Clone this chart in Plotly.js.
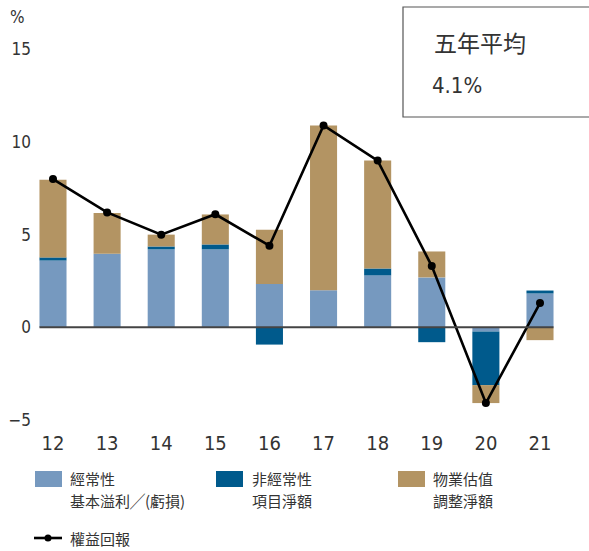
<!DOCTYPE html>
<html>
<head>
<meta charset="utf-8">
<script src="https://cdn.plot.ly/plotly-3.0.1.min.js"></script>
<style>html,body{margin:0;padding:0;background:#fff;}#chart{width:589px;height:551px;}</style>
</head>
<body>
<div id="chart"></div>
<script>
// Data
const years = ['12','13','14','15','16','17','18','19','20','21'];
const recurring = [3.6, 3.97, 4.2, 4.2, 2.33, 2.0, 2.8, 2.69, -0.23, 1.82];
const nonRecurring = [0.17, 0, 0.16, 0.27, -0.94, 0, 0.37, -0.81, -2.9, 0.16];
const revaluation = [4.2, 2.2, 0.64, 1.62, 2.93, 8.9, 5.84, 1.4, -0.97, -0.7];
const roe = [8.0, 6.2, 5.0, 6.1, 4.4, 10.9, 9.0, 3.3, -4.1, 1.3];
const seriesNames = ['經常性 基本溢利╱(虧損)', '非經常性 項目淨額', '物業估值 調整淨額', '權益回報'];
const legendLines = [['經常性', '基本溢利╱(虧損)'], ['非經常性', '項目淨額'], ['物業估值', '調整淨額']];
const boxTitle = '五年平均';
const boxValue = '4.1%';

const colors = ['#7699BF', '#005A8C', '#B39463', '#000000'];
const numFont = 'Liberation Sans Narrow, DejaVu Sans Condensed, Arial Narrow, sans-serif';
const cjkFont = 'Noto Sans CJK TC, Noto Sans CJK SC, sans-serif';
const textColor = '#333333';

// plot area in pixels
const W = 589, H = 551;
const L = 32, R = 575, T = 31, B = 429;
const px = x => (x - L) / (R - L);
const py = y => (B - y) / (B - T);

const traces = [
  {type:'bar', x: years, y: recurring, name: seriesNames[0], marker:{color: colors[0]}},
  {type:'bar', x: years, y: nonRecurring, name: seriesNames[1], marker:{color: colors[1]}},
  {type:'bar', x: years, y: revaluation, name: seriesNames[2], marker:{color: colors[2]}},
  {type:'scatter', mode:'lines+markers', x: years, y: roe, name: seriesNames[3],
   line:{color: colors[3], width: 2.6}, marker:{color: colors[3], size: 8}}
];

const shapes = [
  // zero line
  {type:'line', xref:'x', yref:'y', x0:-0.25, x1:9.25, y0:0, y1:0, line:{color:'#444444', width:2}, layer:'above'},
  // average box
  {type:'rect', xref:'paper', yref:'paper', x0:px(403), x1:px(600), y0:py(117), y1:py(7), line:{color:'#555555', width:1.2}},
  // legend swatches
  {type:'rect', xref:'paper', yref:'paper', x0:px(35), x1:px(62), y0:py(487), y1:py(471), line:{width:0}, fillcolor: colors[0]},
  {type:'rect', xref:'paper', yref:'paper', x0:px(216), x1:px(243), y0:py(487), y1:py(471), line:{width:0}, fillcolor: colors[1]},
  {type:'rect', xref:'paper', yref:'paper', x0:px(398), x1:px(425), y0:py(487), y1:py(471), line:{width:0}, fillcolor: colors[2]},
  {type:'line', xref:'paper', yref:'paper', x0:px(34), x1:px(62), y0:py(538), y1:py(538), line:{color:'#000', width:2.6}},
  {type:'circle', xref:'paper', yref:'paper', x0:px(44.5), x1:px(51.5), y0:py(541.5), y1:py(534.5), line:{width:0}, fillcolor:'#000'}
];

const legX = [68.5, 250.5, 431.5];
const annotations = [
  {xref:'paper', yref:'paper', x:px(8), y:py(17), xanchor:'left', yanchor:'middle', text:'%', showarrow:false,
   font:{family:numFont, size:17, color:textColor}},
  {xref:'paper', yref:'paper', x:px(432), y:py(42), xanchor:'left', yanchor:'middle', text:boxTitle, showarrow:false,
   font:{family:cjkFont, size:23, color:textColor}},
  {xref:'paper', yref:'paper', x:px(430), y:py(85), xanchor:'left', yanchor:'middle', text:boxValue, showarrow:false,
   font:{family:numFont, size:22, color:textColor}},
  {xref:'paper', yref:'paper', x:px(68.5), y:py(538), xanchor:'left', yanchor:'middle', text:seriesNames[3], showarrow:false,
   borderpad:0, font:{family:cjkFont, size:15, color:textColor}}
];
for (let i = 0; i < 3; i++) {
  annotations.push({xref:'paper', yref:'paper', x:px(legX[i]), y:py(478.5), xanchor:'left', yanchor:'middle',
    text:legendLines[i][0], showarrow:false, borderpad:0, font:{family:cjkFont, size:15, color:textColor}});
  annotations.push({xref:'paper', yref:'paper', x:px(legX[i]), y:py(501), xanchor:'left', yanchor:'middle',
    text:legendLines[i][1], showarrow:false, borderpad:0, font:{family:cjkFont, size:15, color:textColor}});
}

const layout = {
  width: W, height: H,
  margin: {l: L, r: W - R, t: T, b: H - B, pad: 0},
  paper_bgcolor:'#fff', plot_bgcolor:'#fff',
  barmode:'relative', bargap:0.5,
  showlegend:false,
  xaxis:{type:'category', range:[-0.388, 9.647], showgrid:false, zeroline:false, showline:false, ticks:'',
    tickfont:{family:numFont, size:20, color:textColor}},
  yaxis:{range:[-5.5, 16], tickvals:[-5,0,5,10,15], showgrid:false, zeroline:false, showline:false, ticks:'',
    tickfont:{family:numFont, size:17, color:textColor}},
  shapes: shapes,
  annotations: annotations,
  hovermode:false
};

Plotly.newPlot('chart', traces, layout, {displayModeBar:false, staticPlot:true});
</script>
</body>
</html>
